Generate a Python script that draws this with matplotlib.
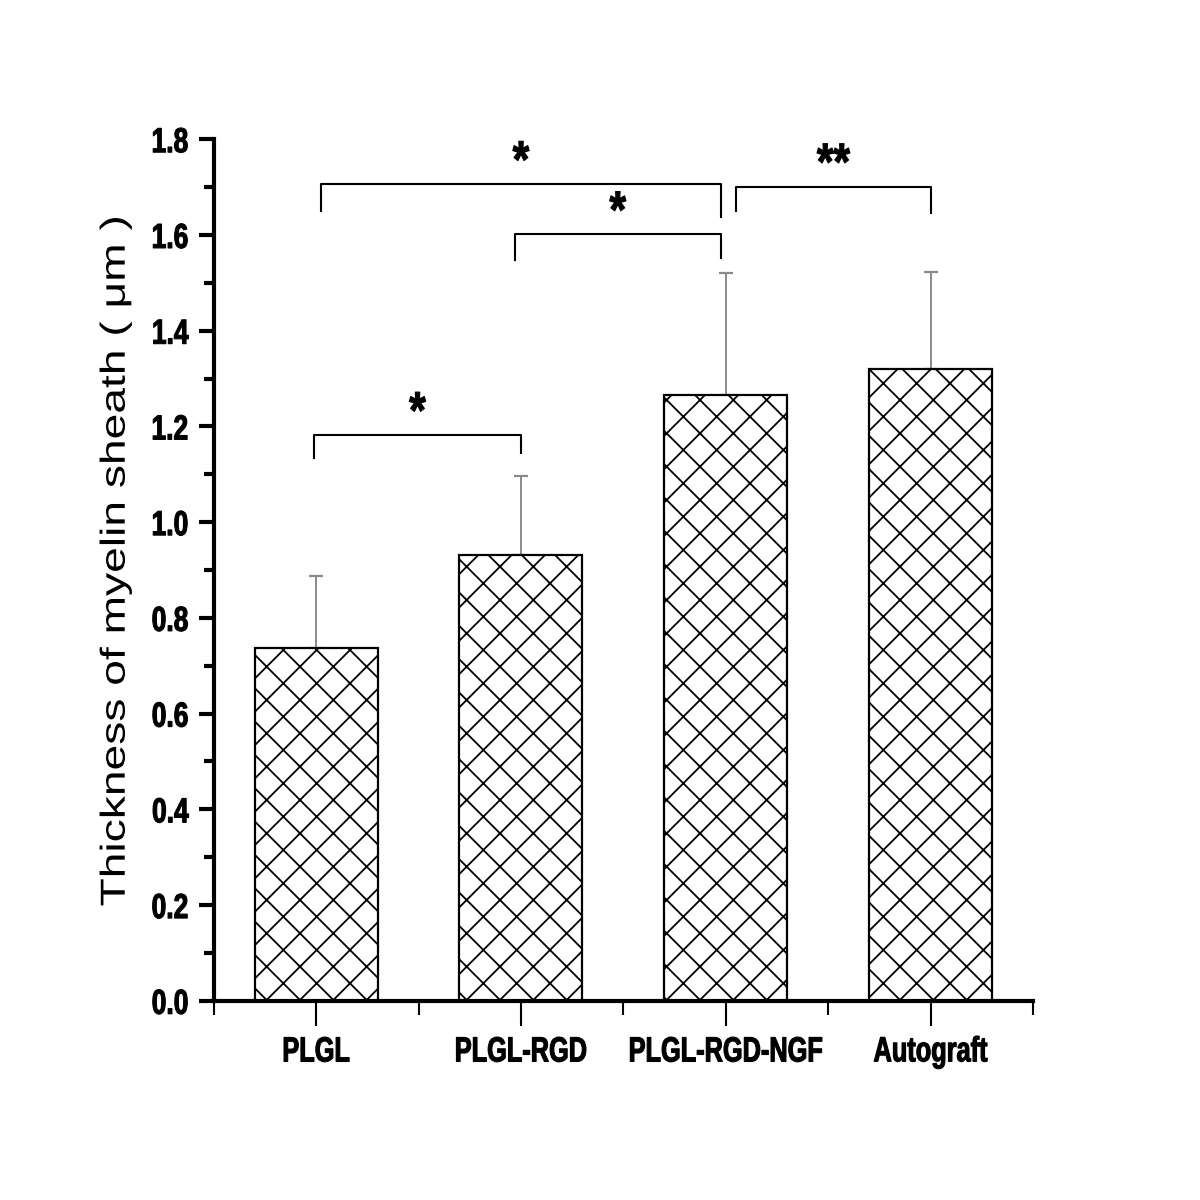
import matplotlib
matplotlib.use("Agg")
import matplotlib.pyplot as plt
from matplotlib.ticker import MultipleLocator
from matplotlib.patheffects import AbstractPathEffect
from matplotlib.transforms import Affine2D
from matplotlib.path import Path

groups = ["PLGL", "PLGL-RGD", "PLGL-RGD-NGF", "Autograft"]
means = [0.737, 0.931, 1.265, 1.319]
errs = [0.150, 0.165, 0.255, 0.203]

# significance brackets: (left x, right x, bar height, left leg end, right leg end, label)
brackets = [
    (0.99, 2.00, 1.182, 1.134, 1.144, "*"),
    (1.97, 2.975, 1.601, 1.547, 1.551, "*"),
    (1.025, 2.975, 1.706, 1.651, 1.637, "*"),
    (3.05, 4.00, 1.701, 1.651, 1.645, "**"),
]


class Stretch(AbstractPathEffect):
    """scale glyphs along the baseline (sx) and across it (sy), optional outline to fatten"""
    def __init__(self, sx=1.0, sy=1.0, anchor="center", stroke=0.0):
        super().__init__()
        self.sx, self.sy, self.anchor, self.stroke = sx, sy, anchor, stroke

    def draw_path(self, renderer, gc, tpath, affine, rgbFace=None):
        v = tpath.vertices
        if tpath.codes is not None:
            v = v[tpath.codes != Path.CLOSEPOLY]
        if len(v) == 0:
            return
        x0 = v[:, 0].max() if self.anchor == "right" else (v[:, 0].min() + v[:, 0].max()) / 2
        y0 = (v[:, 1].min() + v[:, 1].max()) / 2
        t = Affine2D().translate(-x0, -y0).scale(self.sx, self.sy).translate(x0, y0)
        if self.stroke > 0:
            gc0 = renderer.new_gc()
            gc0.copy_properties(gc)
            gc0.set_linewidth(self.stroke)
            gc0.set_foreground(rgbFace)
            renderer.draw_path(gc0, tpath, t + affine, rgbFace)
            gc0.restore()
        else:
            renderer.draw_path(gc, tpath, t + affine, rgbFace)


plt.rcParams["hatch.linewidth"] = 1.3
fam = ["Liberation Sans", "DejaVu Sans"]

fig = plt.figure(figsize=(12, 12), dpi=100)
ax = fig.add_axes([0.178, 0.166, 0.683, 0.718])

x = list(range(1, len(groups) + 1))
ax.bar(x, means, width=0.6, color="white", edgecolor="black", linewidth=1.6,
       hatch="x", zorder=2)
ax.errorbar(x, means, yerr=[[0] * len(errs), errs], fmt="none", ecolor="#8a8a8a",
            elinewidth=1.4, capsize=5, capthick=1.6, zorder=1)

for xl, xr, h, l1, l2, lab in brackets:
    ax.plot([xl, xl, xr, xr], [l1, h, h, l2], color="black", lw=1.5,
            clip_on=False, zorder=3)
    ax.text((xl + xr) / 2, h + 0.045, lab, ha="center", va="center",
            fontsize=34, fontweight="bold", family=fam,
            path_effects=[Stretch(0.9, 1.1, stroke=0.8)])

ax.set_xlim(0.5, 4.5)
ax.set_ylim(0, 1.8)
ax.yaxis.set_major_locator(MultipleLocator(0.2))
ax.yaxis.set_minor_locator(MultipleLocator(0.1))
ax.set_xticks(x)
ax.set_xticks([0.5, 1.5, 2.5, 3.5, 4.5], minor=True)
ax.set_xticklabels(groups)

for s in ["top", "right"]:
    ax.spines[s].set_visible(False)
for s in ["left", "bottom"]:
    ax.spines[s].set_linewidth(3)

ax.tick_params(axis="y", which="major", direction="out", length=11, width=3, pad=7)
ax.tick_params(axis="y", which="minor", direction="out", length=7, width=3)
ax.tick_params(axis="x", which="major", direction="out", length=18, width=1.5, pad=8)
ax.tick_params(axis="x", which="minor", direction="out", length=10, width=1.5)

for t in ax.get_yticklabels():
    t.set_family(fam)
    t.set_fontweight("bold")
    t.set_fontsize(25)
    t.set_path_effects([Stretch(0.76, 1.0, "right", stroke=0.8)])
for t in ax.get_xticklabels():
    t.set_family(fam)
    t.set_fontweight("bold")
    t.set_fontsize(24)
    t.set_path_effects([Stretch(0.76, 1.05, stroke=0.8)])

fig.text(0.096, 1 - 561 / 1200, "Thickness of myelin sheath ( μm )", fontsize=25,
         family=fam, rotation=90, ha="center", va="center", rotation_mode="anchor",
         path_effects=[Stretch(1.33, 1.0)])

fig.savefig("out.png", dpi=100, facecolor="white")
